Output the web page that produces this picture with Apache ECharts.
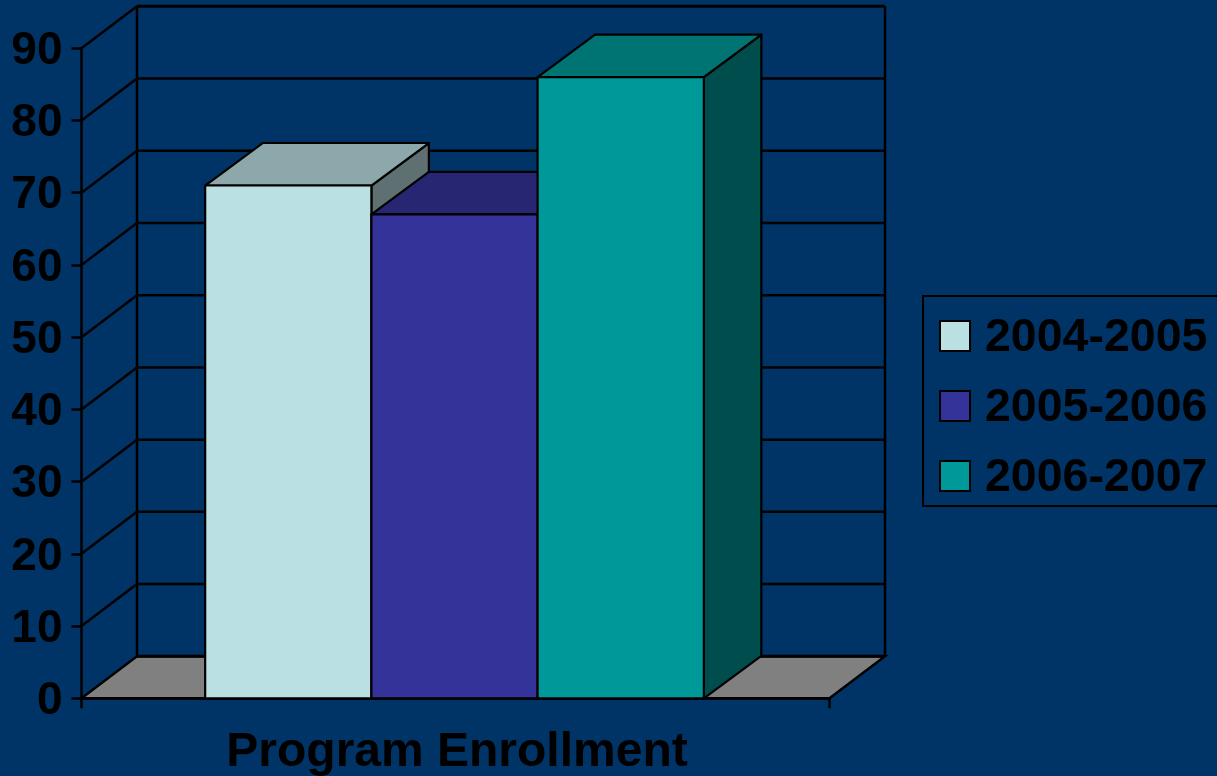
<!DOCTYPE html>
<html>
<head>
<meta charset="utf-8">
<style>html,body{margin:0;padding:0;background:#003366}#c{width:1217px;height:776px}</style>
<script src="https://cdn.jsdelivr.net/npm/echarts@6/dist/echarts.min.js"></script>
</head>
<body>
<div id="c"></div>
<script>
const categories = ['Program Enrollment'];
const seriesNames = ['2004-2005', '2005-2006', '2006-2007'];
const values2004 = [71];
const values2005 = [67];
const values2006 = [86];
const yTicks = [0, 10, 20, 30, 40, 50, 60, 70, 80, 90];

const frontColors = ['#BBE0E3', '#333399', '#009999'];
const topColors = ['#8CA8AA', '#262673', '#007373'];
const sideColors = ['#5E7072', '#1A1A4D', '#004D4D'];
const INK = '#000000';
const FONT = '"Liberation Sans", Arial, sans-serif';
const wallDx = 55.5, wallDy = 42;
const barDx = 57.5, barDy = 42.5;

const chart = echarts.init(document.getElementById('c'), null, {renderer: 'canvas'});

function renderWalls(params, api) {
  const v = api.value(0);
  const cs = params.coordSys;
  const xL = cs.x, xR = cs.x + cs.width;
  const y = api.coord([0, v])[1];
  const line = (a, b, c, d, w) => ({
    type: 'line',
    shape: {x1: a, y1: b, x2: c, y2: d},
    style: {stroke: INK, lineWidth: w}
  });
  const kids = [];
  if (v === 0) {
    kids.push({
      type: 'polygon',
      shape: {points: [[xL, y], [xR, y], [xR + wallDx, y - wallDy], [xL + wallDx, y - wallDy]]},
      style: {fill: '#808080', stroke: INK, lineWidth: 2.5}
    });
    const yTop = api.coord([0, yTicks[yTicks.length - 1]])[1] - wallDy;
    kids.push(line(xL + wallDx, y - wallDy, xL + wallDx, yTop, 2.5));
    kids.push(line(xR + wallDx, y - wallDy, xR + wallDx, yTop, 2.5));
    kids.push(line(xL + wallDx, y - wallDy, xR + wallDx, y - wallDy, 3));
  } else {
    kids.push(line(xL, y, xL + wallDx, y - wallDy, 2.5));
    kids.push(line(xL + wallDx, y - wallDy, xR + wallDx, y - wallDy, v === 90 ? 3 : 2.5));
  }
  return {type: 'group', children: kids};
}

function makeBarRenderer(idx) {
  return function (params, api) {
    const p = api.coord([api.value(0), api.value(1)]);
    const base = api.coord([api.value(0), 0]);
    const band = api.size([1, 0])[0];
    const w = band / 4.5;
    const x0 = p[0] - 1 + (idx - 1.5) * w;
    const x1 = x0 + w;
    const yT = p[1], yB = base[1];
    const stroke = {stroke: INK, lineWidth: 2.2, lineJoin: 'round'};
    return {
      type: 'group',
      children: [
        {type: 'polygon',
         shape: {points: [[x1, yT], [x1 + barDx, yT - barDy], [x1 + barDx, yB - barDy], [x1, yB]]},
         style: Object.assign({fill: sideColors[idx]}, stroke)},
        {type: 'polygon',
         shape: {points: [[x0, yT], [x1, yT], [x1 + barDx, yT - barDy], [x0 + barDx, yT - barDy]]},
         style: Object.assign({fill: topColors[idx]}, stroke)},
        {type: 'rect',
         shape: {x: x0, y: yT, width: w, height: yB - yT},
         style: Object.assign({fill: frontColors[idx]}, stroke)}
      ]
    };
  };
}

const barValues = [values2004, values2005, values2006];

chart.setOption({
  animation: false,
  backgroundColor: '#003366',
  grid: {left: 81.5, top: 48.3, width: 748, height: 650, outerBoundsMode: 'none'},
  legend: {
    show: true,
    data: seriesNames,
    orient: 'vertical',
    left: 923,
    top: 296,
    padding: [19, 20, 4, 16],
    itemWidth: 30,
    itemHeight: 30,
    itemGap: 23,
    icon: 'rect',
    borderColor: INK,
    borderWidth: 2,
    backgroundColor: '#003366',
    formatter: '{t|{name}}',
    textStyle: {
      color: INK, fontFamily: FONT, fontWeight: 'bold', fontSize: 46.5,
      rich: {t: {color: INK, fontFamily: FONT, fontWeight: 'bold', fontSize: 46.5, padding: [5, 0, 0, 10]}}
    }
  },
  xAxis: {
    type: 'category',
    data: categories,
    axisLine: {lineStyle: {color: INK, width: 2.5}},
    axisTick: {show: true, length: 10, lineStyle: {color: INK, width: 2.5}},
    axisLabel: {color: INK, fontFamily: FONT, fontWeight: 'bold', fontSize: 48, margin: 30, padding: [0, 0, 0, 3]}
  },
  yAxis: {
    type: 'value',
    min: 0,
    max: 90,
    interval: 10,
    splitLine: {show: false},
    axisLine: {show: true, lineStyle: {color: INK, width: 2.5}},
    axisTick: {show: true, length: 10, lineStyle: {color: INK, width: 2.5}},
    axisLabel: {
      color: INK, fontFamily: FONT, fontWeight: 'bold', fontSize: 46, margin: 19,
      formatter: '{t|{value}}',
      rich: {t: {color: INK, fontFamily: FONT, fontWeight: 'bold', fontSize: 46, padding: [6, 0, 0, 0]}}
    }
  },
  series: [
    {
      type: 'custom',
      name: 'walls',
      silent: true,
      clip: false,
      z: 1,
      renderItem: renderWalls,
      encode: {y: 0},
      data: yTicks.map(v => [v])
    }
  ].concat(seriesNames.map((name, i) => ({
    type: 'custom',
    name: name,
    clip: false,
    z: 3,
    itemStyle: {color: frontColors[i], borderColor: INK, borderWidth: 2},
    renderItem: makeBarRenderer(i),
    encode: {x: 0, y: 1},
    data: barValues[i].map((v, k) => [k, v])
  })))
});
</script>
</body>
</html>
